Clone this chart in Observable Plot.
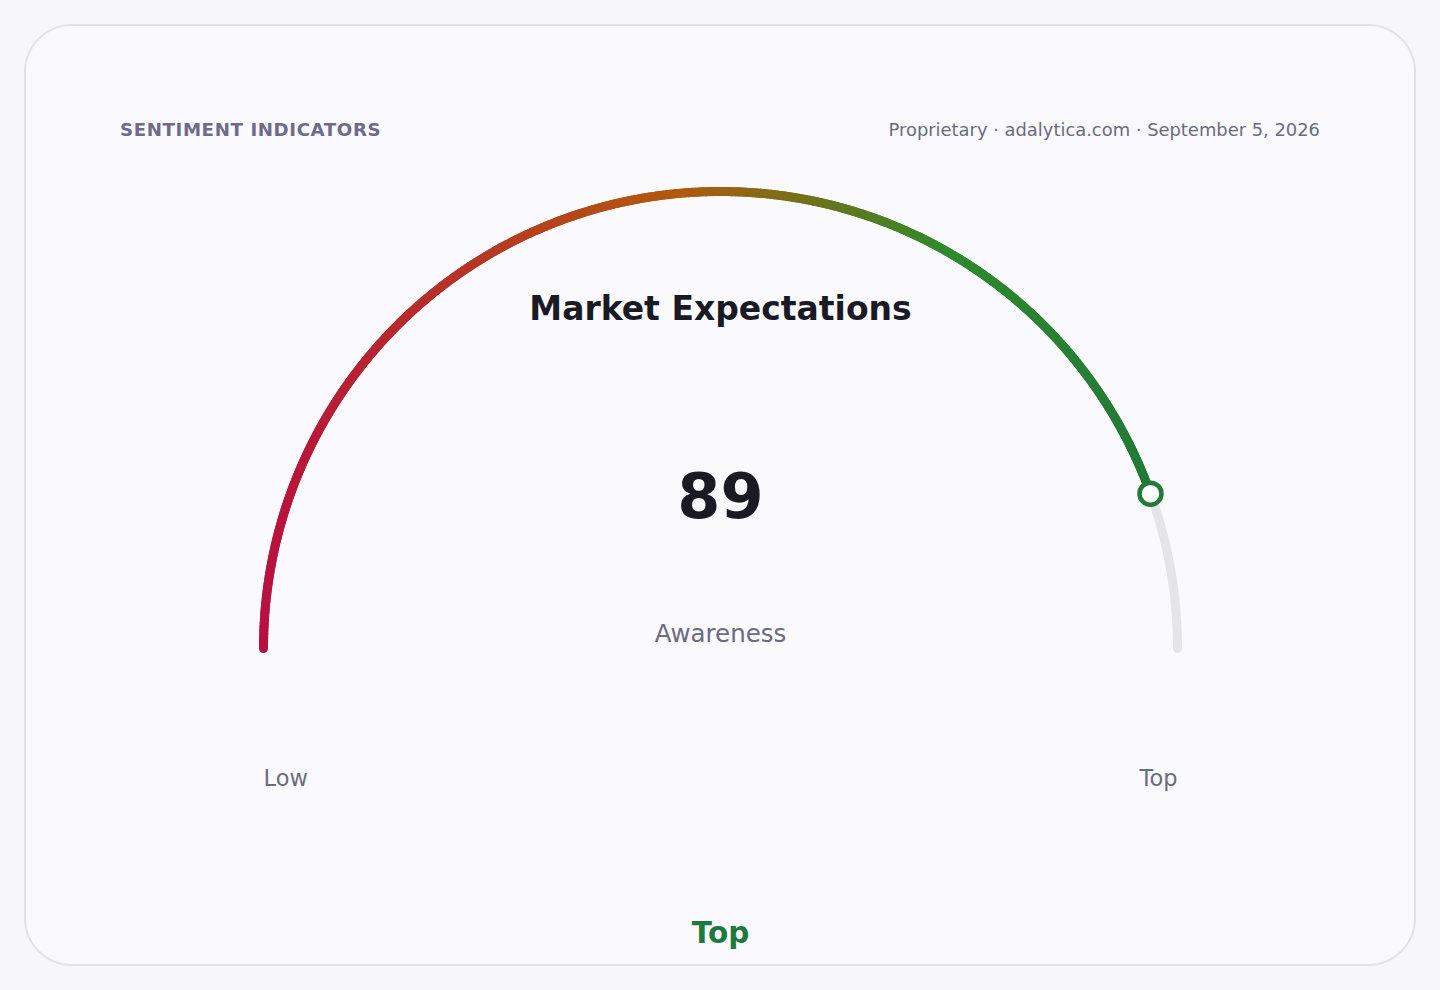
<!DOCTYPE html>
<html>
<head>
<meta charset="utf-8">
<script src="https://cdn.jsdelivr.net/npm/d3@7"></script>
<script src="https://cdn.jsdelivr.net/npm/@observablehq/plot@0.6"></script>
<style>
  html, body { margin: 0; padding: 0; background: #f7f7fb; }
  body { width: 1440px; height: 990px; position: relative; overflow: hidden; font-family: "DejaVu Sans", sans-serif; }
  #card { position: absolute; left: 24px; top: 24px; width: 1388px; height: 938px; border: 2px solid #e2e2ee; border-radius: 48px; background: #f9f9fe; }
  #kicker { position: absolute; left: 120px; top: 119px; font-size: 18.2px; font-weight: bold; letter-spacing: 0.6px; color: #6e6a8a; }
  #source { position: absolute; right: 120px; top: 119px; font-size: 17.9px; color: #6b6b80; }
  #chart { position: absolute; left: 0; top: 0; }
</style>
</head>
<body>
<div id="card"></div>
<div id="kicker">SENTIMENT INDICATORS</div>
<div id="source">Proprietary · adalytica.com · September 5, 2026</div>
<div id="chart"></div>
<script>
// ---- data ----
const gaugeDomain = [0, 100];
const gaugeValue = [89];
const chartTitle = ["Market Expectations"];
const metricLabel = ["Awareness"];
const endLabels = ["Low", "Top"];
const statusLabel = ["Top"];
const gradientColors = ["#b8113f", "#b3590c", "#2f8a2a", "#237a37"];

// ---- geometry from gauge scale ----
const value = gaugeValue[0];
const toAngle = d3.scaleLinear().domain(gaugeDomain).range([Math.PI, 0]);
const px = t => Math.cos(toAngle(t));
const py = t => Math.sin(toAngle(t));

const step = 0.25;
const filled = d3.range(gaugeDomain[0], value, step).map(t => ({t0: t, t1: Math.min(t + step + 0.05, value)}));
const track = d3.range(value, gaugeDomain[1] + step / 2, step).map(t => ({t}));

const W = 1440, H = 990, R = 457, CX = 720, CY = 648;

const plot = Plot.plot({
  width: W,
  height: H,
  margin: 0,
  style: {background: "transparent", fontFamily: "DejaVu Sans, sans-serif", overflow: "visible"},
  x: {domain: [-CX / R, (W - CX) / R], range: [0, W], axis: null},
  y: {domain: [-(H - CY) / R, CY / R], range: [H, 0], axis: null},
  // gradient runs horizontally from the gauge start to the value point
  color: {type: "linear", domain: [px(gaugeDomain[0]), -0.1, 0.5, px(value)], range: gradientColors, interpolate: "rgb", clamp: true},
  marks: [
    Plot.line(track, {x: d => px(d.t), y: d => py(d.t), stroke: "#e4e4e9", strokeWidth: 9, strokeLinecap: "round", curve: "linear"}),
    Plot.link(filled, {x1: d => px(d.t0), y1: d => py(d.t0), x2: d => px(d.t1), y2: d => py(d.t1), stroke: d => (px(d.t0) + px(d.t1)) / 2, strokeWidth: 9, strokeLinecap: "round"}),
    Plot.dot(gaugeValue, {x: d => px(d), y: d => py(d), r: 11, fill: "#ffffff", stroke: "#237a37", strokeWidth: 4.5}),
    Plot.text(chartTitle, {x: 0, y: (CY - 309) / R, text: d => d, fontSize: 33, fontWeight: "bold", fill: "#1a1a24"}),
    Plot.text(gaugeValue, {x: 0, y: (CY - 498) / R, text: d => String(d), fontSize: 62, fontWeight: "bold", fill: "#1a1a24"}),
    Plot.text(metricLabel, {x: 0, y: (CY - 634) / R, text: d => d, fontSize: 24.5, fill: "#6b6b80"}),
    Plot.text([endLabels[0]], {x: -1, y: (CY - 778) / R, text: d => d, textAnchor: "start", fontSize: 22.5, fill: "#6b6b80"}),
    Plot.text([endLabels[1]], {x: 1, y: (CY - 778) / R, text: d => d, textAnchor: "end", fontSize: 22.5, fill: "#6b6b80"}),
    Plot.text(statusLabel, {x: 0, y: (CY - 933) / R, text: d => d, fontSize: 29.5, fontWeight: "bold", fill: "#1e7a3c"})
  ]
});
document.getElementById("chart").appendChild(plot);
</script>
</body>
</html>
